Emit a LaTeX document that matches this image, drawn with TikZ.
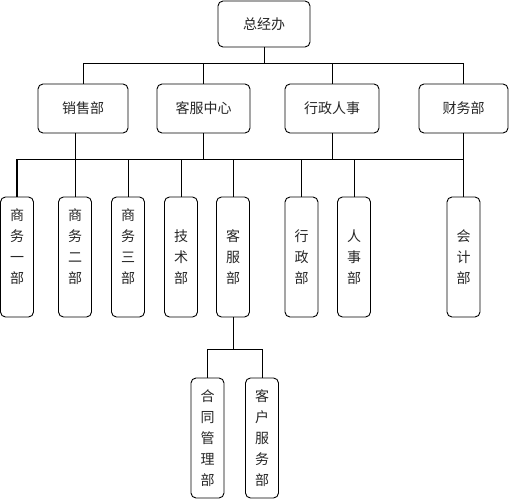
\documentclass[tikz,border=0pt]{standalone}
\usepackage{fontspec}
\setmainfont{Noto Sans CJK SC}
\begin{document}
\begin{tikzpicture}[x=1pt,y=-1pt,
  box/.style={draw, line width=0.9pt, rounded corners=5pt, inner sep=0pt,
    font=\fontsize{14}{21}\selectfont, align=center, text=black!85},
  hbox/.style={box, minimum height=49pt},
  vbox/.style={box, minimum width=33pt, minimum height=120pt},
  con/.style={line width=0.8pt},
  conb/.style={line width=1.5pt}]
\useasboundingbox (0,0) rectangle (509,500);
% top
\node[box, minimum width=92pt, minimum height=46pt] (t) at (264,24) {总经办};
% level 2
\node[hbox, minimum width=90pt] (a1) at (83,108.5) {销售部};
\node[hbox, minimum width=93pt] (a2) at (203.5,108.5) {客服中心};
\node[hbox, minimum width=94pt] (a3) at (332,108.5) {行政人事};
\node[hbox, minimum width=89pt] (a4) at (463.5,108.5) {财务部};
% level 3
\node[vbox] (b1) at (17,257) {商\\务\\一\\部\\\mbox{}};
\node[vbox] (b2) at (75,257) {商\\务\\二\\部\\\mbox{}};
\node[vbox] (b3) at (128,257) {商\\务\\三\\部\\\mbox{}};
\node[vbox] (b4) at (181,257) {技\\术\\部};
\node[vbox] (b5) at (233,257) {客\\服\\部};
\node[vbox] (b6) at (301.5,257) {行\\政\\部};
\node[vbox] (b7) at (354,257) {人\\事\\部};
\node[vbox] (b8) at (463.5,257) {会\\计\\部};
% level 4
\node[vbox] (c1) at (207.5,438) {合\\同\\管\\理\\部};
\node[vbox] (c2) at (262,438) {客\\户\\服\\务\\部};
% buses
\coordinate (bus1) at (0,63);
\coordinate (bus2) at (0,159);
\coordinate (bus3) at (0,349);
% top connectors
\draw[con] (t.south) -- (t.south |- bus1);
\draw[con] (a1.north) -- (a1.north |- bus1) -- (a4.north |- bus1) -- (a4.north);
\draw[conb] (a2.north) -- (a2.north |- bus1);
\draw[con] (a3.north) -- (a3.north |- bus1);
% level 2 to bus2
\draw[con] (a1.south -| b2.north) -- (b2.north |- bus2);
\draw[conb] (a2.south) -- (a2.south |- bus2);
\draw[con] (a3.south) -- (a3.south |- bus2);
\draw[con] (a4.south) -- (a4.south |- bus2);
% bus2
\draw[con] (b1.north |- bus2) -- (b8.north |- bus2);
\draw[conb] (b1.north) -- (b1.north |- bus2);
\draw[con] (b2.north) -- (b2.north |- bus2);
\draw[con] (b3.north) -- (b3.north |- bus2);
\draw[con] (b4.north) -- (b4.north |- bus2);
\draw[con] (b5.north) -- (b5.north |- bus2);
\draw[conb] (b6.north) -- (b6.north |- bus2);
\draw[con] (b7.north) -- (b7.north |- bus2);
\draw[con] (b8.north) -- (b8.north |- bus2);
% level 4
\draw[con] (b5.south) -- (b5.south |- bus3);
\draw[con] (c1.north |- bus3) -- (c2.north |- bus3);
\draw[conb] (c1.north) -- (c1.north |- bus3);
\draw[con] (c2.north) -- (c2.north |- bus3);
\end{tikzpicture}
\end{document}
